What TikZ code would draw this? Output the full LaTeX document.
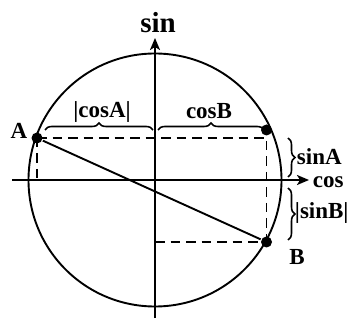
\documentclass[tikz,border=0pt]{standalone}
\usepackage{fontspec}
\setmainfont{Liberation Serif}
\usepackage{tikz}
\usetikzlibrary{arrows.meta,calc,decorations.pathreplacing}
\tikzset{
  trig lbl/.style={font=\bfseries\fontsize{23}{25}\selectfont, inner sep=0pt},
  trig big/.style={font=\bfseries\fontsize{29}{31}\selectfont, inner sep=0pt},
  trig dot/.style={circle, fill=black, inner sep=0pt, minimum size=11pt},
  trig dash/.style={dash pattern=on 9.5pt off 6pt, line width=1.8pt},
  trig brace/.style={decorate, decoration={brace, amplitude=7pt}, line width=1.6pt},
  trig arr/.style={-{Stealth[length=12pt, width=10pt, inset=3pt]}, line width=1.9pt}
}

\begin{document}
\begin{tikzpicture}[x=1pt, y=1pt, line width=1.9pt]
  \useasboundingbox (0,0) rectangle (358,326);

  \coordinate (O) at (155,146);
  \coordinate (xl) at (12,146);
  \coordinate (xr) at (309,146);
  \coordinate (yb) at (155,8);
  \coordinate (yt) at (155,288);

  \draw (O) circle [radius=126.5];
  \draw[trig arr] (xl) -- (xr);
  \draw[trig arr] (yb) -- (yt);
  \node[trig lbl, anchor=west] (lcos) at (312,144) {cos};
  \node[trig big] (lsin) at (158,303) {sin};

  \node[trig dot] (A) at (37,188) {};
  \node[trig dot] (C) at (266.5,196) {};
  \node[trig dot] (B) at (266.5,84) {};
  \node[trig lbl] (lA) at (19,195) {A};
  \node[trig lbl] (lB) at (297,69) {B};

  \draw (A) -- (B);
  \draw[trig dash] (A.center) -- (A |- O);
  \draw[trig dash] (A.center) -- (C |- A) -- (B.center);
  \draw[trig dash] (O |- B) -- (B.center);

  % braces
  \draw[trig brace] (45,196) -- (153,196);
  \node[trig lbl] (lcosA) at (102,214) {|cosA|};
  \draw[trig brace] (158,196) -- (264,196);
  \node[trig lbl] (lcosB) at (209,215) {cosB};
  \draw[trig brace] (288,188) -- (288,149);
  \node[trig lbl, anchor=west] (lsinA) at (296,169) {sinA};
  \draw[trig brace] (288,138) -- (288,86);
  \node[trig lbl, anchor=west] (lsinB) at (294,113) {|sinB|};
\end{tikzpicture}
\end{document}
